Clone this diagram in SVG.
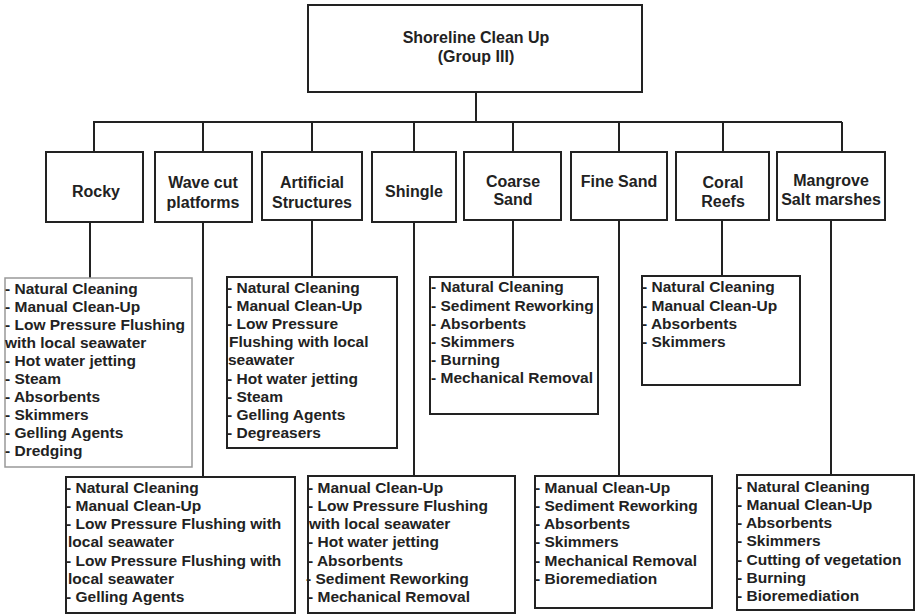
<svg xmlns="http://www.w3.org/2000/svg" width="916" height="615" viewBox="0 0 916 615">
<style>
.box{fill:#fff;stroke:#222;stroke-width:2}
.lbox{fill:#fff;stroke:#999;stroke-width:1.5}
.hd{font-family:"Liberation Sans",Arial,sans-serif;font-weight:bold;font-size:16px;fill:#222;text-anchor:middle}
.li{font-family:"Liberation Sans",Arial,sans-serif;font-weight:bold;font-size:15.5px;fill:#222}
.ln{fill:none;stroke:#222;stroke-width:2}
</style>
<rect width="916" height="615" fill="#fff"/>
<g id="connectors">
<path class="ln" d="M476 92V122M93 122H842M94 122V152M203 122V152M312 122V152M414 122V152M513 122V152M619 122V152M723 122V152M842 122V152"/>
<path class="ln" d="M90 222V278M203 222V477M312 220V277M414 222V476M513 220V277M619 220V476M722 220V276M831 220V475"/>
</g>
<g id="root">
<rect class="box" x="308" y="5" width="334" height="87"/>
<text class="hd" x="476" y="43">Shoreline Clean Up</text>
<text class="hd" x="476" y="62">(Group III)</text>
</g>
<g id="rocky">
<rect class="box" x="46" y="152" width="97" height="70"/>
<text class="hd" x="96" y="197">Rocky</text>
</g>
<g id="wavecut">
<rect class="box" x="155" y="152" width="97" height="70"/>
<text class="hd" x="203" y="188">Wave cut</text>
<text class="hd" x="203" y="208">platforms</text>
</g>
<g id="artificial">
<rect class="box" x="262" y="152" width="100" height="68"/>
<text class="hd" x="312" y="188">Artificial</text>
<text class="hd" x="312" y="208">Structures</text>
</g>
<g id="shingle">
<rect class="box" x="372" y="152" width="84" height="70"/>
<text class="hd" x="414" y="197">Shingle</text>
</g>
<g id="coarse">
<rect class="box" x="464" y="152" width="97" height="68"/>
<text class="hd" x="513" y="187">Coarse</text>
<text class="hd" x="513" y="205">Sand</text>
</g>
<g id="finesand">
<rect class="box" x="571" y="152" width="96" height="68"/>
<text class="hd" x="619" y="187">Fine Sand</text>
</g>
<g id="coral">
<rect class="box" x="676" y="152" width="93" height="68"/>
<text class="hd" x="723" y="188">Coral</text>
<text class="hd" x="723" y="207">Reefs</text>
</g>
<g id="mangrove">
<rect class="box" x="777" y="152" width="108" height="68"/>
<text class="hd" x="831" y="186">Mangrove</text>
<text class="hd" x="831" y="205">Salt marshes</text>
</g>
<g id="rocky-list">
<rect class="lbox" x="5" y="278" width="187" height="189"/>
<text class="li" x="5" y="294">- Natural Cleaning</text>
<text class="li" x="5" y="312">- Manual Clean-Up</text>
<text class="li" x="5" y="330">- Low Pressure Flushing</text>
<text class="li" x="5" y="348">with local seawater</text>
<text class="li" x="5" y="366">- Hot water jetting</text>
<text class="li" x="5" y="384">- Steam</text>
<text class="li" x="5" y="402">- Absorbents</text>
<text class="li" x="5" y="420">- Skimmers</text>
<text class="li" x="5" y="438">- Gelling Agents</text>
<text class="li" x="5" y="456">- Dredging</text>
</g>
<g id="artificial-list">
<rect class="box" x="227" y="277" width="170" height="171"/>
<text class="li" x="227" y="293">- Natural Cleaning</text>
<text class="li" x="227" y="311">- Manual Clean-Up</text>
<text class="li" x="227" y="329">- Low Pressure</text>
<text class="li" x="229" y="347">Flushing with local</text>
<text class="li" x="228" y="365">seawater</text>
<text class="li" x="227" y="384">- Hot water jetting</text>
<text class="li" x="227" y="402">- Steam</text>
<text class="li" x="227" y="420">- Gelling Agents</text>
<text class="li" x="227" y="438">- Degreasers</text>
</g>
<g id="coarse-list">
<rect class="box" x="430" y="277" width="168" height="137"/>
<text class="li" x="431" y="292">- Natural Cleaning</text>
<text class="li" x="431" y="311">- Sediment Reworking</text>
<text class="li" x="431" y="329">- Absorbents</text>
<text class="li" x="431" y="347">- Skimmers</text>
<text class="li" x="431" y="365">- Burning</text>
<text class="li" x="431" y="383">- Mechanical Removal</text>
</g>
<g id="coral-list">
<rect class="box" x="642" y="276" width="158" height="109"/>
<text class="li" x="642" y="292">- Natural Cleaning</text>
<text class="li" x="642" y="311">- Manual Clean-Up</text>
<text class="li" x="642" y="329">- Absorbents</text>
<text class="li" x="642" y="347">- Skimmers</text>
</g>
<g id="wavecut-list">
<rect class="box" x="66" y="477" width="229" height="136"/>
<text class="li" x="66" y="493">- Natural Cleaning</text>
<text class="li" x="66" y="511">- Manual Clean-Up</text>
<text class="li" x="66" y="529">- Low Pressure Flushing with</text>
<text class="li" x="68" y="547">local seawater</text>
<text class="li" x="66" y="566">- Low Pressure Flushing with</text>
<text class="li" x="68" y="584">local seawater</text>
<text class="li" x="66" y="602">- Gelling Agents</text>
</g>
<g id="shingle-list">
<rect class="box" x="308" y="476" width="207" height="137"/>
<text class="li" x="308" y="493">- Manual Clean-Up</text>
<text class="li" x="308" y="511">- Low Pressure Flushing</text>
<text class="li" x="309" y="529">with local seawater</text>
<text class="li" x="308" y="547">- Hot water jetting</text>
<text class="li" x="308" y="566">- Absorbents</text>
<text class="li" x="306" y="584">- Sediment Reworking</text>
<text class="li" x="308" y="602">- Mechanical Removal</text>
</g>
<g id="finesand-list">
<rect class="box" x="535" y="476" width="177" height="132"/>
<text class="li" x="535" y="493">- Manual Clean-Up</text>
<text class="li" x="535" y="511">- Sediment Reworking</text>
<text class="li" x="535" y="529">- Absorbents</text>
<text class="li" x="535" y="547">- Skimmers</text>
<text class="li" x="535" y="566">- Mechanical Removal</text>
<text class="li" x="535" y="584">- Bioremediation</text>
</g>
<g id="mangrove-list">
<rect class="box" x="737" y="475" width="177" height="135"/>
<text class="li" x="737" y="492">- Natural Cleaning</text>
<text class="li" x="737" y="510">- Manual Clean-Up</text>
<text class="li" x="737" y="528">- Absorbents</text>
<text class="li" x="737" y="546">- Skimmers</text>
<text class="li" x="737" y="565">- Cutting of vegetation</text>
<text class="li" x="737" y="583">- Burning</text>
<text class="li" x="737" y="601">- Bioremediation</text>
</g>
</svg>
